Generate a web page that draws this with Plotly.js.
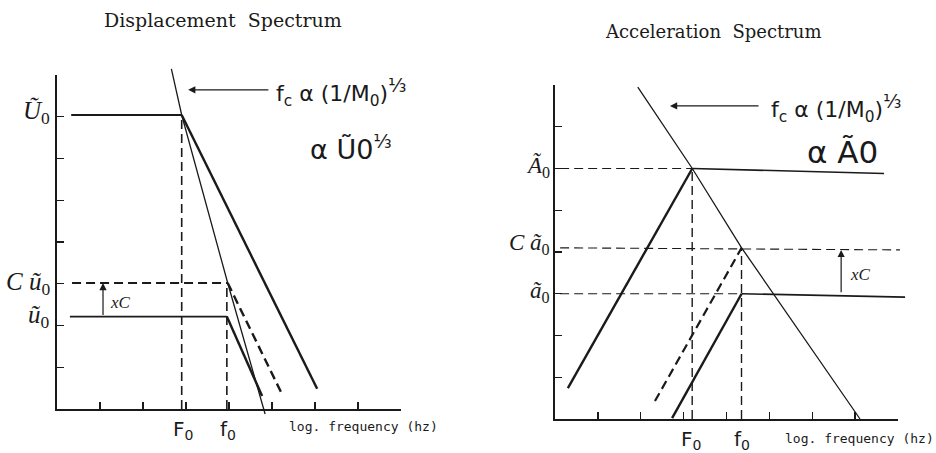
<!DOCTYPE html>
<html>
<head>
<meta charset="utf-8">
<script src="https://cdn.plot.ly/plotly-3.0.1.min.js"></script>
<style>
  html, body { margin: 0; padding: 0; background: #fff; }
  #plot { width: 936px; height: 453px; }
</style>
</head>
<body>
<div id="plot"></div>
<script>
// all values are in tick divisions of each (log-log) sketch axis

// displacement spectrum
let dispLevels = { U0: 7, Cu0: 3, u0: 2.2 };
let dispFreqs = { F0: 2.9, f0: 3.95 };
let dispFcX = [2.66, 2.9, 3.97, 4.84];
let dispFcY = [8.1, 7.0, 3.0, -0.12];
let dispBigFlatX = [0.33, 2.9];
let dispBigDecayX = [2.9, 6.05];
let dispBigDecayY = [7.0, 0.48];
let dispSmallFlatX = [0.3, 3.95];
let dispSmallDecayX = [3.95, 4.77];
let dispSmallDecayY = [2.2, 0.31];
let dispScaledFlatX = [0.35, 3.97];
let dispScaledDecayX = [3.97, 5.23];
let dispScaledDecayY = [3.0, 0.36];

// acceleration spectrum
let accLevels = { A0: 6.0, Ca0: 4.1, a0: 3.0 };
let accFreqs = { F0: 3.2, f0: 4.35 };
let accFcX = [1.93, 3.2, 4.35, 7.11];
let accFcY = [7.95, 6.0, 4.1, 0];
let accBigRiseX = [0.3, 3.2];
let accBigRiseY = [0.74, 6.0];
let accBigFlatX = [3.2, 7.67];
let accBigFlatY = [6.0, 5.88];
let accScaledRiseX = [2.33, 4.35];
let accScaledRiseY = [0.43, 4.1];
let accScaledFlatX = [0.12, 8.04];
let accScaledFlatY = [4.1, 4.05];
let accSmallRiseX = [2.73, 4.35];
let accSmallRiseY = [0.02, 3.0];
let accSmallFlatX = [4.35, 8.16];
let accSmallFlatY = [3.0, 2.92];
let accGuideStart = 0.12;

let ink = "#1a1a1a";
let W = 936, H = 453;

// pixel helpers for the page layout
function domX(a, b) { return [a / W, b / W]; }
function domY(bottom, top) { return [(H - bottom) / H, (H - top) / H]; }
function px(x) { return x / W; }
function py(y) { return 1 - y / H; }

function line(xs, ys, axes, width, dash) {
    return {
        x: xs, y: ys,
        xaxis: axes[0], yaxis: axes[1],
        type: "scatter", mode: "lines",
        line: { color: ink, width: width, dash: dash || "solid" },
        hoverinfo: "skip"
    };
}

let FL = ["x", "y"];    // left frame
let FR = ["x2", "y2"];  // right frame
let L = ["x3", "y3"];   // left drawing (wider clip box)
let R = ["x4", "y4"];   // right drawing
let dash = "9px,5px";

let data = [
    // displacement
    line([dispFreqs.F0, dispFreqs.F0], [0, dispLevels.U0], FL, 1.6, dash),
    line([dispFreqs.f0, dispFreqs.f0], [0, dispLevels.Cu0], FL, 1.6, dash),
    line(dispFcX, dispFcY, L, 1.3),
    line(dispBigFlatX, [dispLevels.U0, dispLevels.U0], L, 1.8),
    line(dispBigDecayX, dispBigDecayY, L, 2.4),
    line(dispSmallFlatX, [dispLevels.u0, dispLevels.u0], L, 1.8),
    line(dispSmallDecayX, dispSmallDecayY, L, 2.4),
    line(dispScaledFlatX, [dispLevels.Cu0, dispLevels.Cu0], L, 1.8, dash),
    line(dispScaledDecayX, dispScaledDecayY, L, 2.4, dash),

    // acceleration
    line([accFreqs.F0, accFreqs.F0], [0, accLevels.A0], FR, 1.4, dash),
    line([accFreqs.f0, accFreqs.f0], [0, accLevels.Ca0], FR, 1.4, dash),
    line(accFcX, accFcY, R, 1.3),
    line([accGuideStart, accFreqs.F0], [accLevels.A0, accLevels.A0], R, 1.1, dash),
    line(accBigFlatX, accBigFlatY, R, 1.6),
    line(accBigRiseX, accBigRiseY, R, 2.4),
    line(accScaledFlatX, accScaledFlatY, R, 1.1, dash),
    line(accScaledRiseX, accScaledRiseY, R, 2.2, dash),
    line([accGuideStart, accFreqs.f0], [accLevels.a0, accLevels.a0], R, 1.1, dash),
    line(accSmallFlatX, accSmallFlatY, R, 1.6),
    line(accSmallRiseX, accSmallRiseY, R, 2.4)
];

// visible sketch axes: ticks only, no labels
function frameAxis(domain, anchor) {
    return {
        domain: domain, anchor: anchor, range: [0, 8],
        showline: true, linecolor: ink, linewidth: 1.6,
        ticks: "inside", ticklen: 7, tickwidth: 1.4, tickcolor: ink,
        tick0: 0, dtick: 1, showticklabels: false,
        showgrid: false, zeroline: false, fixedrange: true
    };
}
// hidden axes with the same scale but a wider clip box, for the drawn lines
function dataAxis(domain, range, anchor) {
    return {
        domain: domain, anchor: anchor, range: range,
        visible: false, showgrid: false, zeroline: false, fixedrange: true
    };
}

let serif = "Liberation Serif, serif";
let dserif = "DejaVu Serif, serif";
let sans = "DejaVu Sans, sans-serif";
let mono = "DejaVu Sans Mono, monospace";

function label(text, x, y, size, fam, xa, opts) {
    let a = {
        text: text, x: x, y: y, xref: "paper", yref: "paper",
        xanchor: xa || "center", yanchor: "middle", showarrow: false,
        font: { family: fam, size: size, color: ink }
    };
    return Object.assign(a, opts || {});
}

function arrow(x, y, ax, ay, axes) {
    return {
        x: x, y: y, ax: ax, ay: ay,
        xref: axes[0], yref: axes[1], axref: axes[0], ayref: axes[1],
        text: "", showarrow: true, arrowhead: 2, arrowsize: 1.2,
        arrowwidth: 1.2, arrowcolor: ink
    };
}

let third = "<sup><span style='font-size:19px'>\u2153</span></sup>";
let fcText = "f<sub>c</sub> \u03b1 (1/M<sub>0</sub>)" + third;

let annotations = [
    // titles
    label("Displacement\u00a0 Spectrum", px(223), py(20), 19, dserif),
    label("Acceleration\u00a0 Spectrum", px(713), py(31), 18, dserif),

    // displacement labels
    label("<i>\u0168</i><sub>0</sub>", px(52), py(113), 25, serif, "right"),
    label("<i>C</i> <i>\u0169</i><sub>0</sub>", px(52), py(283), 25, serif, "right"),
    label("<i>\u0169</i><sub>0</sub>", px(52), py(316), 25, serif, "right"),
    label("<i>xC</i>", px(108), py(302), 17, serif, "left"),
    label("F<sub>0</sub>", px(183), py(430), 20, sans),
    label("f<sub>0</sub>", px(228), py(430), 20, sans),
    label("log. frequency (hz)", px(287), py(426), 13, mono, "left"),
    label(fcText, px(274), py(92), 22, sans, "left"),
    label("\u03b1 \u01680" + third, px(308), py(147), 27, sans, "left"),

    // acceleration labels
    label("<i>\u00c3</i><sub>0</sub>", px(552), py(166), 23, serif, "right"),
    label("<i>C</i> <i>\u00e3</i><sub>0</sub>", px(552), py(244), 23, serif, "right"),
    label("<i>\u00e3</i><sub>0</sub>", px(552), py(292), 23, serif, "right"),
    label("<i>xC</i>", px(848), py(274), 17, serif, "left"),
    label("F<sub>0</sub>", px(691), py(440), 20, sans),
    label("f<sub>0</sub>", px(742), py(440), 20, sans),
    label("log. frequency (hz)", px(783), py(438), 13, mono, "left"),
    label(fcText, px(769), py(108), 22, sans, "left"),
    label("\u03b1 \u00c30", px(805), py(152), 31, sans, "left"),

    // arrows
    arrow(3.05, 7.6, 4.95, 7.6, L),
    arrow(1.07, dispLevels.Cu0, 1.07, dispLevels.u0, L),
    arrow(2.68, 7.5, 4.78, 7.5, R),
    arrow(6.67, 4.05, 6.67, accLevels.a0, R)
];

let layout = {
    width: W, height: H,
    margin: { l: 0, r: 0, t: 0, b: 0, pad: 0 },
    paper_bgcolor: "#fff",
    plot_bgcolor: "rgba(0,0,0,0)",
    showlegend: false,
    xaxis: frameAxis(domX(57, 401), "y"),
    yaxis: frameAxis(domY(409, 75), "x"),
    xaxis2: frameAxis(domX(555, 898), "y2"),
    yaxis2: frameAxis(domY(419, 85), "x2"),
    xaxis3: dataAxis(domX(57 - 43, 57 + 43 * 9.5), [-1, 9.5], "y3"),
    yaxis3: dataAxis(domY(409 + 42, 409 - 42 * 9.5), [-1, 9.5], "x3"),
    xaxis4: dataAxis(domX(555 - 42.9, 555 + 42.9 * 8.5), [-1, 8.5], "y4"),
    yaxis4: dataAxis(domY(419 + 0.8 * 41.75, 419 - 9 * 41.75), [-0.8, 9], "x4"),
    annotations: annotations
};

Plotly.newPlot("plot", data, layout, { staticPlot: true, displayModeBar: false });
</script>
</body>
</html>
